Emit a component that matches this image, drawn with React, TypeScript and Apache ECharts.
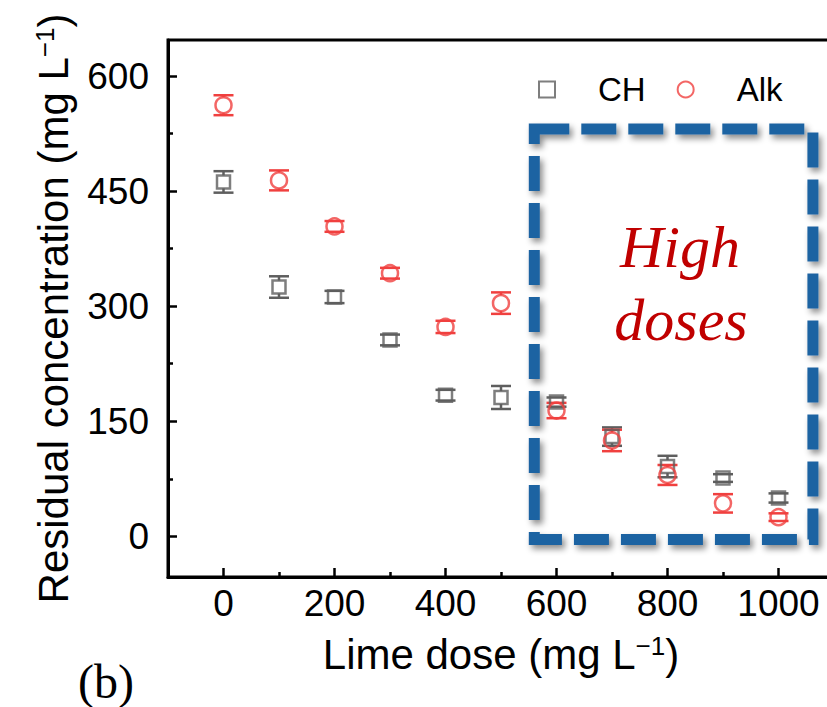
import React, { useEffect, useRef } from "react";
import * as echarts from "echarts";

// ---- data ----
const doses = [0, 100, 200, 300, 400, 500, 600, 700, 800, 900, 1000];
const chValues = [462, 325, 312, 256, 184, 181, 175, 130, 91, 76, 50];
const chErrors = [14, 14, 8, 7, 7, 15, 6, 12, 14, 5, 6];
const alkValues = [562, 464, 404, 343, 273, 304, 164, 125, 80, 43, 25];
const alkErrors = [13, 13, 7, 7, 8, 14, 10, 14, 13, 12, 5];

const xTickValues = [0, 200, 400, 600, 800, 1000];
const xMinorTickValues = [100, 300, 500, 700, 900];
const yTickValues = [0, 150, 300, 450, 600];
const yMinorTickValues = [75, 225, 375, 525];

const seriesNames = ["CH", "Alk"];
const boxDoseRange = [560, 1062];
const boxConcRange = [-4, 531];
const boxLabelLines = ["High", "doses"];
const panelLabel = "(b)";

const GRAY = "#5e5e5e";
const RED = "#f0403f";
const BLUE = "#1f64a2";
const SANS = "'Liberation Sans', Arial, sans-serif";
const SERIF = "'Liberation Serif', 'Times New Roman', serif";

function errorBarSeries(values: number[], errors: number[], color: string, half: number) {
  return {
    type: "custom",
    silent: true,
    data: doses.map((d, i) => [d, values[i], errors[i]]),
    encode: { x: 0, y: 1 },
    renderItem: (params: any, api: any) => {
      const x = api.value(0);
      const y = api.value(1);
      const e = api.value(2);
      const c = api.coord([x, y]);
      const t = api.coord([x, y + e]);
      const b = api.coord([x, y - e]);
      const cap = 10;
      const style = { stroke: color, lineWidth: 2.5 };
      const children: any[] = [
        { type: "line", shape: { x1: c[0] - cap, y1: t[1], x2: c[0] + cap, y2: t[1] }, style },
        { type: "line", shape: { x1: c[0] - cap, y1: b[1], x2: c[0] + cap, y2: b[1] }, style },
      ];
      if (t[1] < c[1] - half) {
        children.push({ type: "line", shape: { x1: c[0], y1: t[1], x2: c[0], y2: c[1] - half }, style });
        children.push({ type: "line", shape: { x1: c[0], y1: c[1] + half, x2: c[0], y2: b[1] }, style });
      }
      return { type: "group", children };
    },
    z: 3,
  };
}

export default function App() {
  const ref = useRef<HTMLDivElement>(null);
  useEffect(() => {
    if (!ref.current) return;
    const chart = echarts.init(ref.current, null, { renderer: "svg" });
    const axisLineStyle = { color: "#000", width: 3 };
    const titleRich = {
      a: { fontFamily: SANS, fontSize: 42, color: "#000" },
      b: { fontFamily: SANS, fontSize: 26, color: "#000", verticalAlign: "top" },
    };
    const option: any = {
      animation: false,
      backgroundColor: "#fff",
      grid: {
        left: 168,
        top: 40,
        width: 666,
        height: 537,
        outerBoundsMode: "none",
        containLabel: false,
        show: true,
        borderColor: "#000",
        borderWidth: 3,
        backgroundColor: "transparent",
      },
      legend: {
        left: 533,
        top: 68,
        itemWidth: 16,
        itemHeight: 16,
        itemGap: 31,
        data: seriesNames,
        textStyle: {
          fontFamily: SANS,
          fontSize: 33,
          color: "#000",
          padding: [0, 0, 0, 38],
        },
      },
      xAxis: [
        {
          type: "value",
          min: -100,
          max: 1100,
          name: "{a|Lime dose (mg L}{b|−1}{a|)}",
          nameLocation: "middle",
          nameGap: 56,
          nameTextStyle: { rich: titleRich },
          axisLine: { show: true, onZero: false, lineStyle: axisLineStyle },
          axisTick: { show: true, inside: true, length: 9, lineStyle: { width: 2.5, color: "#000" }, customValues: xTickValues },
          axisLabel: {
            fontFamily: SANS,
            fontSize: 37,
            color: "#000",
            margin: 8,
            customValues: xTickValues,
            formatter: (v: number) => String(v),
          },
          splitLine: { show: false },
        },
        {
          type: "value",
          min: -100,
          max: 1100,
          position: "bottom",
          offset: 0,
          axisLine: { show: false, onZero: false },
          axisTick: { show: true, inside: true, length: 5, lineStyle: { width: 2.5, color: "#000" }, customValues: xMinorTickValues },
          axisLabel: { show: false },
          splitLine: { show: false },
        },
      ],
      yAxis: [
        {
          type: "value",
          min: -53,
          max: 647,
          name: "{a|Residual concentration (mg L}{b|−1}{a|)}",
          nameLocation: "middle",
          nameGap: 94,
          nameTextStyle: { rich: titleRich },
          axisLine: { show: true, onZero: false, lineStyle: axisLineStyle },
          axisTick: { show: true, inside: true, length: 9, lineStyle: { width: 2.5, color: "#000" }, customValues: yTickValues },
          axisLabel: {
            fontFamily: SANS,
            fontSize: 37,
            color: "#000",
            margin: 19,
            customValues: yTickValues,
            formatter: (v: number) => String(v),
          },
          splitLine: { show: false },
        },
        {
          type: "value",
          min: -53,
          max: 647,
          position: "left",
          offset: 0,
          axisLine: { show: false, onZero: false },
          axisTick: { show: true, inside: true, length: 5, lineStyle: { width: 2.5, color: "#000" }, customValues: yMinorTickValues },
          axisLabel: { show: false },
          splitLine: { show: false },
        },
      ],
      series: [
        errorBarSeries(chValues, chErrors, GRAY, 6.5),
        {
          name: seriesNames[0],
          type: "scatter",
          symbol: "rect",
          symbolSize: 13,
          data: doses.map((d, i) => [d, chValues[i]]),
          itemStyle: { color: "rgba(255,255,255,0)", borderColor: GRAY, borderWidth: 2.5 },
          z: 4,
        },
        errorBarSeries(alkValues, alkErrors, RED, 8),
        {
          name: seriesNames[1],
          type: "scatter",
          symbol: "circle",
          symbolSize: 16,
          data: doses.map((d, i) => [d, alkValues[i]]),
          itemStyle: { color: "rgba(255,255,255,0)", borderColor: RED, borderWidth: 2.5 },
          z: 5,
          markArea: {
            silent: true,
            label: { show: false },
            itemStyle: {
              color: "rgba(0,0,0,0)",
              borderColor: BLUE,
              borderWidth: 11,
              borderType: [35, 12],
              shadowBlur: 6,
              shadowColor: "rgba(0,0,0,0.45)",
              shadowOffsetX: 3,
              shadowOffsetY: 4,
            },
            data: [
              [
                { xAxis: boxDoseRange[0], yAxis: boxConcRange[1] },
                { xAxis: boxDoseRange[1], yAxis: boxConcRange[0] },
              ],
            ],
          },
        },
      ],
      graphic: [
        {
          type: "text",
          x: 680,
          y: 247,
          style: {
            text: boxLabelLines[0],
            fontFamily: SERIF,
            fontStyle: "italic",
            fontSize: 60,
            fill: "#c00000",
            textAlign: "center",
            textVerticalAlign: "middle",
          },
        },
        {
          type: "text",
          x: 681,
          y: 320,
          style: {
            text: boxLabelLines[1],
            fontFamily: SERIF,
            fontStyle: "italic",
            fontSize: 60,
            fill: "#c00000",
            textAlign: "center",
            textVerticalAlign: "middle",
          },
        },
        {
          type: "text",
          x: 78,
          y: 681,
          style: {
            text: panelLabel,
            fontFamily: SERIF,
            fontSize: 48,
            fill: "#000",
            textAlign: "left",
            textVerticalAlign: "middle",
          },
        },
      ],
    };
    chart.setOption(option);
    return () => chart.dispose();
  }, []);
  return (
    <div
      ref={ref}
      style={{ position: "fixed", left: 0, top: 0, width: 827, height: 707, background: "#fff" }}
    />
  );
}
